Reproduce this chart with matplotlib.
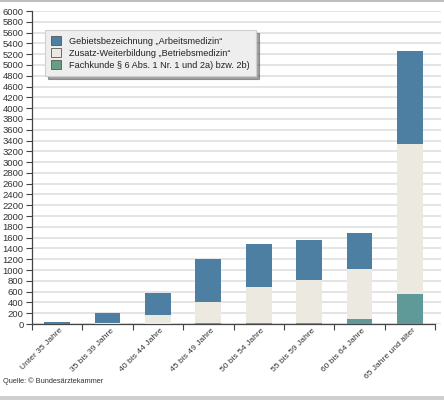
import numpy as np
import matplotlib
matplotlib.use("Agg")
import matplotlib.pyplot as plt
from matplotlib.patches import Patch, Rectangle
from matplotlib.transforms import ScaledTranslation

categories = ["Unter 35 Jahre", "35 bis 39 Jahre", "40 bis 44 Jahre", "45 bis 49 Jahre",
              "50 bis 54 Jahre", "55 bis 59 Jahre", "60 bis 64 Jahre", "65 Jahre und älter"]
fachkunde = [0, 0, 5, 10, 10, 25, 100, 555]
betriebsmedizin = [5, 20, 162, 403, 680, 790, 925, 2775]
arbeitsmedizin = [25, 190, 408, 787, 786, 735, 660, 1920]
ytick_values = [0, 200, 400, 600, 800, 1000, 1200, 1400, 1600, 1800, 2000, 2200, 2400,
                2600, 2800, 3000, 3200, 3400, 3600, 3800, 4000, 4200, 4600, 4800, 5000,
                5200, 5400, 5600, 5800, 6000]
series_labels = ["Gebietsbezeichnung \u201eArbeitsmedizin\u201c",
                 "Zusatz-Weiterbildung \u201eBetriebsmedizin\u201c",
                 "Fachkunde \u00a7 6 Abs. 1 Nr. 1 und 2a) bzw. 2b)"]

c_blue = "#4c7fa2"
c_beige = "#ece9e1"
c_teal = "#609a98"
c_teal_leg = "#6a9e84"

plt.rcParams["font.family"] = ["Liberation Sans", "DejaVu Sans"]

fig = plt.figure(figsize=(4.44, 4.0), dpi=100)
W, H = 444, 400
ax = fig.add_axes([32 / W, 1 - 324 / H, (441 - 32) / W, (324 - 11) / H])


def fwd(v):
    v = np.asarray(v, dtype=float)
    return np.where(v <= 4200, v, np.where(v >= 4600, v - 200, 4200 + (v - 4200) * 0.5))


def inv(u):
    u = np.asarray(u, dtype=float)
    return np.where(u <= 4200, u, np.where(u >= 4400, u + 200, 4200 + (u - 4200) * 2))


ax.set_yscale("function", functions=(fwd, inv))

x = np.arange(len(categories))
f = np.array(fachkunde, dtype=float)
b = np.array(betriebsmedizin, dtype=float)
a = np.array(arbeitsmedizin, dtype=float)
bw = 0.51
ax.bar(x, f, width=bw, color=c_teal, zorder=3)
ax.bar(x, b, bottom=f, width=bw, color=c_beige, zorder=3)
ax.bar(x, a, bottom=f + b, width=bw, color=c_blue, zorder=3)

ax.set_ylim(0, 6000)
ax.set_xlim(-0.5, 7.5 + 6 / 51)
ax.set_yticks(ytick_values)
ax.set_yticklabels([str(v) for v in ytick_values], fontsize=6.8, color="#333333")
ax.yaxis.grid(True, color="#e2e2e2", linewidth=1.3, zorder=0)
ax.set_axisbelow(True)
ax.tick_params(axis="y", length=4, width=0.8, color="#444444", pad=2)

ax.set_xticks(x)
ax.set_xticklabels(categories, rotation=45, ha="right", va="center",
                   rotation_mode="anchor", fontsize=6.1, color="#333333")
ax.tick_params(axis="x", which="major", length=0, pad=4)
offset = ScaledTranslation(5 / 100, 0, fig.dpi_scale_trans)
for lbl in ax.get_xticklabels():
    lbl.set_transform(lbl.get_transform() + offset)
ax.set_xticks(np.arange(-0.5, 8.0, 1.0), minor=True)
ax.tick_params(axis="x", which="minor", length=4, width=0.8, color="#444444")

for s in ["top", "right"]:
    ax.spines[s].set_visible(False)
ax.spines["left"].set_color("#444444")
ax.spines["bottom"].set_color("#444444")
ax.spines["left"].set_linewidth(0.9)
ax.spines["bottom"].set_linewidth(0.9)
ax.spines["bottom"].set_bounds(-0.5, 7.5)

handles = [Patch(facecolor=c_blue, edgecolor="#555555", linewidth=0.6),
           Patch(facecolor=c_beige, edgecolor="#555555", linewidth=0.6),
           Patch(facecolor=c_teal_leg, edgecolor="#555555", linewidth=0.6)]
leg = fig.legend(handles, series_labels, loc="upper left",
                 bbox_to_anchor=(45 / W, 1 - 30 / H), borderaxespad=0, fontsize=6.6,
                 frameon=True, fancybox=False, shadow=True, facecolor="#eeeeee",
                 edgecolor="#cfcfcf", handlelength=1.0, handleheight=1.0,
                 handletextpad=0.9, labelspacing=0.3, borderpad=0.7,
                 labelcolor="#222222")
leg.get_frame().set_linewidth(0.8)

fig.text(3 / W, 1 - 381 / H, "Quelle: \u00a9 Bundes\u00e4rztekammer", fontsize=5.3,
         color="#333333", va="center", ha="left")

fig.patches.append(Rectangle((0, 1 - 2 / H), 1, 2 / H, transform=fig.transFigure,
                             facecolor="#bdbdbd", edgecolor="none"))
fig.patches.append(Rectangle((0, 0), 1, 4 / H, transform=fig.transFigure,
                             facecolor="#cfcfcf", edgecolor="none"))

fig.savefig("out.png", dpi=100)
